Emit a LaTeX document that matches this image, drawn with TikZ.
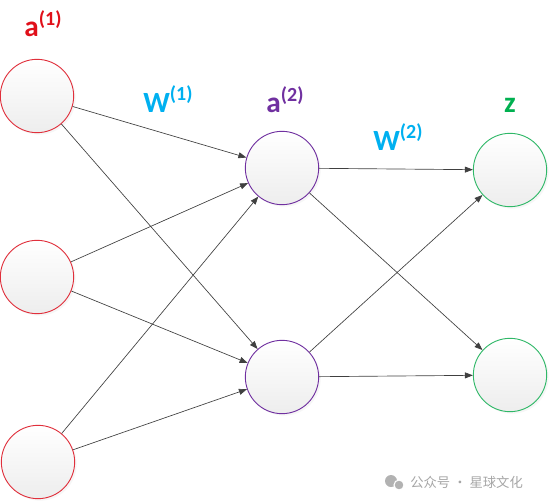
\documentclass[tikz,border=0pt]{standalone}
\usepackage{fontspec}
\setmainfont{Carlito}
\newfontfamily\cjk{Noto Sans CJK SC}
\usetikzlibrary{arrows.meta,shadows}
\definecolor{inred}{HTML}{E0101A}
\definecolor{ringred}{HTML}{E0303C}
\definecolor{hidpurple}{HTML}{7030A0}
\definecolor{wcyan}{HTML}{00B0F0}
\definecolor{outgreen}{HTML}{00B050}
\definecolor{ringgreen}{HTML}{30B868}
\newcommand\layersup[1]{\raisebox{8.5pt}{\fontsize{15}{17}\selectfont(#1)}}
\begin{document}
\begin{tikzpicture}[x=0.75pt,y=-0.75pt,
  neuron/.style={circle,draw,line width=0.7pt,minimum size=55pt,inner sep=0pt,top color=white,bottom color=black!7,
    drop shadow={opacity=0.07,shadow xshift=1.5pt,shadow yshift=-1.5pt}},
  wire/.style={-{Triangle[length=6pt,width=4.5pt]},line width=0.5pt,black!75},
  lbl/.style={anchor=base,font=\fontsize{22}{26}\selectfont\bfseries}]
  \useasboundingbox (0,0) rectangle (549,503);
  \node[neuron,draw=ringred] (a1) at (37,96) {};
  \node[neuron,draw=ringred] (a2) at (37,277) {};
  \node[neuron,draw=ringred] (a3) at (38,462) {};
  \node[neuron,draw=hidpurple] (h1) at (282,168) {};
  \node[neuron,draw=hidpurple] (h2) at (282,377) {};
  \node[neuron,draw=ringgreen] (z1) at (510,170) {};
  \node[neuron,draw=ringgreen] (z2) at (510,375) {};
  \node[lbl,text=inred] (la1) at (43,37) {a\layersup{1}};
  \node[lbl,text=wcyan] (lw1) at (168,112) {W\layersup{1}};
  \node[lbl,text=hidpurple] (la2) at (285,113) {a\layersup{2}};
  \node[lbl,text=wcyan] (lw2) at (398,150) {W\layersup{2}};
  \node[lbl,text=outgreen] (lz) at (510,113) {z};
  \foreach \i in {a1,a2,a3} \foreach \j in {h1,h2} \draw[wire] (\i) -- (\j);
  \foreach \i in {h1,h2} \foreach \j in {z1,z2} \draw[wire] (\i) -- (\j);
  \fill[black!30] (391,481) circle (6);
  \fill[black!30,draw=white,line width=0.8pt] (399,485) circle (5);
  \node[anchor=base west,inner sep=0pt,text=black!35,font=\cjk\fontsize{10}{12}\selectfont] (wm) at (410,487) {公众号 · 星球文化};
\end{tikzpicture}
\end{document}
